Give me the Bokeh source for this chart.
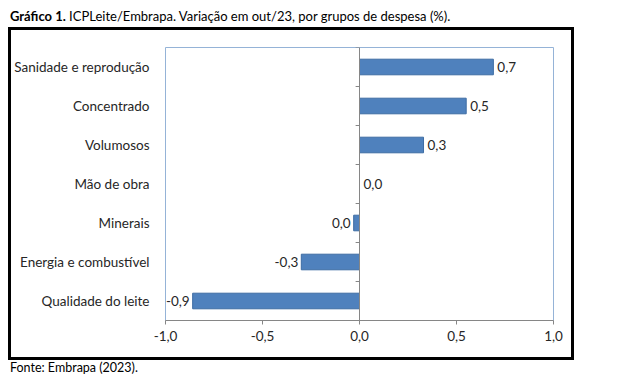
from bokeh.plotting import figure
from bokeh.models import Div, Span, FixedTicker, ColumnDataSource
from bokeh.layouts import column
from bokeh.embed import file_html
from bokeh.resources import INLINE
from bokeh.core.properties import value

# Data (bottom to top)
categories = ["Qualidade do leite", "Energia e combustível", "Minerais", "Mão de obra",
              "Volumosos", "Concentrado", "Sanidade e reprodução"]
values = [-0.86, -0.30, -0.03, 0.0, 0.33, 0.55, 0.69]
value_labels = ["-0,9", "-0,3", "0,0", "0,0", "0,3", "0,5", "0,7"]
x_ticks = [-1.0, -0.5, 0.0, 0.5, 1.0]
x_tick_labels = ["-1,0", "-0,5", "0,0", "0,5", "1,0"]
title_bold = "Gráfico 1."
title_rest = "ICPLeite/Embrapa. Variação em out/23, por grupos de despesa (%)."
source_text = "Fonte: Embrapa (2023)."

FONT = "Lato"
pos = list(range(len(categories)))

p = figure(width=566, height=333, x_range=(-1.0, 1.0), y_range=(-0.5, len(categories) - 0.5),
           output_backend="svg", toolbar_location=None,
           min_border_left=149, min_border_right=24, min_border_top=17, min_border_bottom=43)
p.margin = (0, 0, 0, 8)
p.styles = {"border": "3px solid black"}
p.outline_line_color = "#95B3D7"
p.outline_line_width = 1
p.xgrid.visible = False
p.ygrid.visible = False
p.background_fill_color = "white"
p.border_fill_color = "white"

# bars
src = ColumnDataSource(dict(y=pos, v=values, lab=value_labels,
                            align=["right" if v < 0 else "left" for v in values],
                            off=[-3 if v < 0 else 4 for v in values],
                            la=[0 if v == 0 else 1 for v in values]))
p.hbar(y="y", left=0, right="v", height=0.4, source=src,
       fill_color="#4F81BD", line_color="#3D6CA3", line_alpha="la", line_width=1)

# zero axis line and category boundary ticks
p.add_layout(Span(location=0, dimension="height", line_color="#868686", line_width=1))
bounds = [k - 0.5 for k in range(len(categories) + 1)]
p.segment(x0=[-0.02] * len(bounds), x1=[0] * len(bounds), y0=bounds, y1=bounds,
          line_color="#868686", line_width=1)

# value labels
p.text(x="v", y="y", text="lab", source=src, x_offset="off", text_align="align",
       text_baseline="middle", text_font=value(FONT), text_font_size="13.5px",
       text_color="#262626")

# x axis
p.xaxis.ticker = FixedTicker(ticks=x_ticks)
p.xaxis.major_label_overrides = {t: l for t, l in zip(x_ticks, x_tick_labels)}
p.xaxis.axis_line_color = "#868686"
p.xaxis.major_tick_line_color = "#868686"
p.xaxis.major_tick_in = 0
p.xaxis.major_tick_out = 4
p.xaxis.minor_tick_line_color = None
p.xaxis.major_label_text_font = FONT
p.xaxis.major_label_text_font_size = "13.5px"
p.xaxis.major_label_text_color = "#262626"
p.xaxis.major_label_standoff = 6

# y axis (category labels)
p.yaxis.ticker = FixedTicker(ticks=pos)
p.yaxis.major_label_overrides = {i: c for i, c in zip(pos, categories)}
p.yaxis.axis_line_color = None
p.yaxis.major_tick_line_color = None
p.yaxis.minor_tick_line_color = None
p.yaxis.major_label_text_font = FONT
p.yaxis.major_label_text_font_size = "13.5px"
p.yaxis.major_label_text_color = "#262626"
p.yaxis.major_label_standoff = 10

title = Div(text=f"<b>{title_bold}</b> {title_rest}", width=600, height=19,
            margin=(8, 0, 0, 8),
            styles={"font-family": FONT, "font-size": "13px", "color": "black",
                    "line-height": "16px", "padding-left": "2px"})
source = Div(text=source_text, width=600, height=16, margin=(0, 0, 0, 8),
             styles={"font-family": FONT, "font-size": "12.5px", "color": "black",
                     "line-height": "16px", "padding-left": "2px"})

layout = column(title, p, source, spacing=0)
open("out.html", "w").write(file_html(layout, INLINE))
